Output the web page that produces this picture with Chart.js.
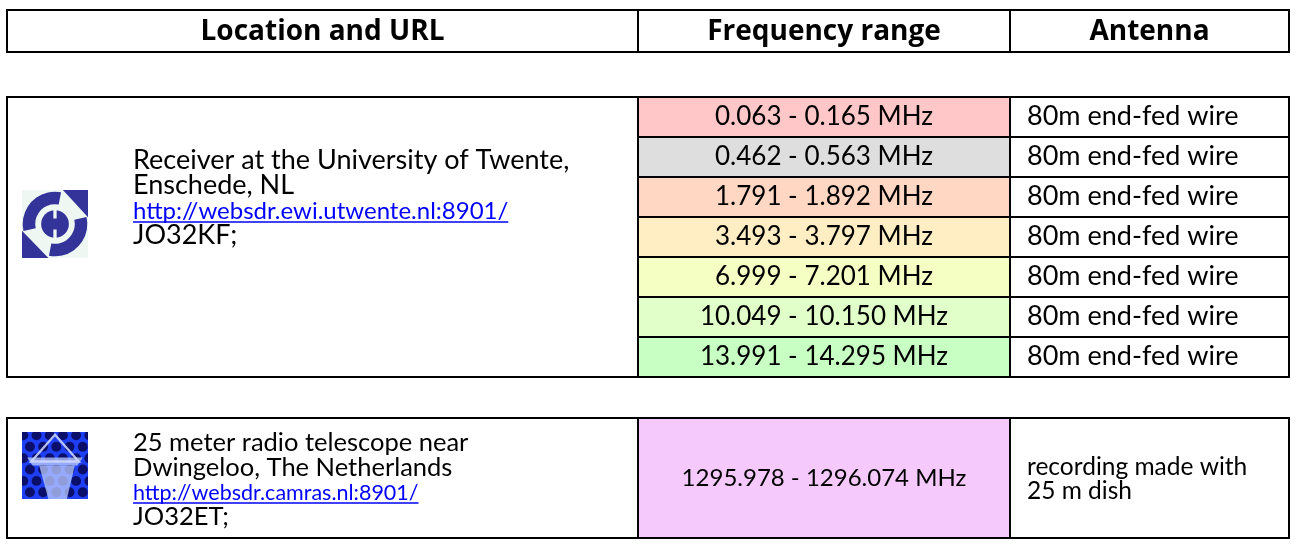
<!DOCTYPE html>
<html>
<head>
<meta charset="utf-8">
<script src="https://cdn.jsdelivr.net/npm/chart.js@4.4.1/dist/chart.umd.min.js"></script>
<style>
  html, body { margin: 0; padding: 0; background: #fff; }
  #wrap { width: 1295px; height: 556px; position: relative; }
</style>
</head>
<body>
<div id="wrap"><canvas id="sdrTable"></canvas></div>
<script>
// --- data ---
const headerLabels = ['Location and URL', 'Frequency range', 'Antenna'];

const twenteInfo = [
  'Receiver at the University of Twente,',
  'Enschede, NL',
  'http://websdr.ewi.utwente.nl:8901/',
  'JO32KF;',
];
const twenteLow = [0.063, 0.462, 1.791, 3.493, 6.999, 10.049, 13.991];
const twenteHigh = [0.165, 0.563, 1.892, 3.797, 7.201, 10.150, 14.295];
const twenteAntenna = [
  '80m end-fed wire',
  '80m end-fed wire',
  '80m end-fed wire',
  '80m end-fed wire',
  '80m end-fed wire',
  '80m end-fed wire',
  '80m end-fed wire',
];

const dwingelooInfo = [
  '25 meter radio telescope near',
  'Dwingeloo, The Netherlands',
  'http://websdr.camras.nl:8901/',
  'JO32ET;',
];
const dwingelooLow = [1295.978];
const dwingelooHigh = [1296.074];
const dwingelooAntenna = ['recording made with', '25 m dish'];

// --- styles / layout (page units, 1 unit = 1 px) ---
const twenteColors = ['#ffc7c7', '#dedede', '#ffd7c3', '#ffedc3', '#f6ffc3', '#e1ffc9', '#c8ffc2'];
const dwingelooColor = '#f5c9fc';
const cols = [7, 638, 1010, 1289];
const headerBox = [10, 52];
const headerBase = 40;
const twenteTop = 97;
const rowH = 40;
const dwBox = [418, 538];
const fam = 'Lato, "Open Sans", sans-serif';
const headFont = 'bold 28px "Open Sans", Lato, sans-serif';
const linkColor = '#0000ff';

const freqLabel = (lo, hi) => lo.toFixed(3) + ' - ' + hi.toFixed(3) + ' MHz';

const twenteCells = twenteLow.map((lo, i) => ({
  y: twenteTop + rowH * i + rowH / 2,
  x: [cols[1], cols[2]],
}));
const dwCells = dwingelooLow.map(() => ({
  y: (dwBox[0] + dwBox[1]) / 2,
  x: [cols[1], cols[2]],
}));

function drawTwenteLogo(ctx, x, y, w, h) {
  const P = (u, v) => [x + u * w, y + v * h];
  ctx.save();
  ctx.fillStyle = '#eff7f3';
  ctx.fillRect(x, y, w, h);
  ctx.fillStyle = '#33339a';
  const [cx, cy] = P(0.5, 0.5);
  const R = w * 0.49, r = w * 0.3;
  const sector = (a0, a1) => {
    ctx.beginPath();
    ctx.arc(cx, cy, R, a0, a1);
    ctx.arc(cx, cy, r, a1, a0, true);
    ctx.closePath();
    ctx.fill();
  };
  sector(0.93 * Math.PI, 1.56 * Math.PI);
  sector(-0.07 * Math.PI, 0.56 * Math.PI);
  const tri = (pts) => {
    ctx.beginPath();
    pts.forEach((p, i) => (i ? ctx.lineTo(...P(...p)) : ctx.moveTo(...P(...p))));
    ctx.closePath();
    ctx.fill();
  };
  tri([[0.62, 0.0], [1.0, 0.0], [1.0, 0.4]]);
  tri([[0.0, 0.6], [0.0, 1.0], [0.4, 1.0]]);
  ctx.beginPath();
  ctx.arc(cx, cy, w * 0.21, 0, Math.PI * 2);
  ctx.fill();
  ctx.strokeStyle = '#eff7f3';
  ctx.lineWidth = w * 0.05;
  ctx.beginPath();
  ctx.moveTo(...P(0.5, 0.27));
  ctx.lineTo(...P(0.5, 0.42));
  ctx.moveTo(...P(0.5, 0.58));
  ctx.lineTo(...P(0.5, 0.73));
  ctx.stroke();
  ctx.restore();
}

function drawDwingelooLogo(ctx, x, y, w, h) {
  const P = (u, v) => [x + u * w, y + v * h];
  ctx.save();
  ctx.beginPath();
  ctx.rect(x, y, w, h);
  ctx.clip();
  ctx.fillStyle = '#1f3ff5';
  ctx.fillRect(x, y, w, h);
  ctx.fillStyle = '#0b0f6a';
  for (let row = 0; row < 7; row++) {
    for (let c = 0; c < 7; c++) {
      const u = c * 0.2 + (row % 2 ? 0.1 : 0) + 0.02;
      const v = row * 0.17 + 0.05;
      ctx.beginPath();
      ctx.arc(...P(u, v), w * 0.075, 0, Math.PI * 2);
      ctx.fill();
    }
  }
  ctx.fillStyle = 'rgba(190,205,255,0.75)';
  const poly = (pts) => {
    ctx.beginPath();
    pts.forEach((p, i) => (i ? ctx.lineTo(...P(...p)) : ctx.moveTo(...P(...p))));
    ctx.closePath();
  };
  poly([[0.08, 0.38], [0.92, 0.38], [0.84, 0.5], [0.16, 0.5]]);
  ctx.fill();
  poly([[0.26, 0.5], [0.8, 0.5], [0.68, 1.0], [0.4, 1.0]]);
  ctx.fill();
  ctx.strokeStyle = 'rgba(210,220,255,0.85)';
  ctx.lineWidth = w * 0.035;
  poly([[0.5, 0.04], [0.86, 0.44], [0.14, 0.44]]);
  ctx.stroke();
  ctx.restore();
}

const tablePlugin = {
  id: 'tablePlugin',
  afterDatasetsDraw(chart) {
    const ctx = chart.ctx;
    const X = (v) => chart.scales.x.getPixelForValue(v);
    const Y = (v) => chart.scales.y.getPixelForValue(v);
    ctx.save();

    const box = (top, bottom) => {
      ctx.strokeStyle = '#000';
      ctx.lineWidth = 2;
      ctx.strokeRect(X(cols[0]), Y(top), X(cols[3]) - X(cols[0]), Y(bottom) - Y(top));
      ctx.beginPath();
      ctx.moveTo(X(cols[1]), Y(top));
      ctx.lineTo(X(cols[1]), Y(bottom));
      ctx.moveTo(X(cols[2]), Y(top));
      ctx.lineTo(X(cols[2]), Y(bottom));
      ctx.stroke();
    };

    // header
    box(headerBox[0], headerBox[1]);
    ctx.fillStyle = '#000';
    ctx.font = headFont;
    ctx.textAlign = 'center';
    ctx.textBaseline = 'alphabetic';
    headerLabels.forEach((t, i) => {
      ctx.fillText(t, (X(cols[i]) + X(cols[i + 1])) / 2, Y(headerBase));
    });

    // Twente block
    const twBottom = twenteTop + rowH * twenteLow.length;
    box(twenteTop, twBottom);
    ctx.beginPath();
    for (let i = 1; i < twenteLow.length; i++) {
      ctx.moveTo(X(cols[1]), Y(twenteTop + rowH * i));
      ctx.lineTo(X(cols[3]), Y(twenteTop + rowH * i));
    }
    ctx.stroke();

    twenteLow.forEach((lo, i) => {
      const base = Y(twenteTop + rowH * i + 28);
      ctx.fillStyle = '#000';
      ctx.textAlign = 'center';
      ctx.font = '26px ' + fam;
      ctx.fillText(freqLabel(lo, twenteHigh[i]), (X(cols[1]) + X(cols[2])) / 2, base);
      ctx.textAlign = 'left';
      ctx.font = '27px ' + fam;
      ctx.fillText(twenteAntenna[i], X(cols[2]) + 17, base);
    });

    const infoBlock = (lines, firstBase, step, size, linkSize) => {
      ctx.textAlign = 'left';
      lines.forEach((t, i) => {
        const bx = X(133);
        const by = Y(firstBase + step * i);
        const isLink = t.startsWith('http');
        ctx.font = (isLink ? linkSize : size) + 'px ' + fam;
        ctx.fillStyle = isLink ? linkColor : '#000';
        ctx.fillText(t, bx, by);
        if (isLink) {
          const w = ctx.measureText(t).width;
          ctx.strokeStyle = linkColor;
          ctx.lineWidth = 1.5;
          ctx.beginPath();
          ctx.moveTo(bx, by + 3);
          ctx.lineTo(bx + w, by + 3);
          ctx.stroke();
        }
      });
    };
    infoBlock(twenteInfo, 169, 25, 27, 24);
    drawTwenteLogo(ctx, X(22), Y(190), X(88) - X(22), Y(258) - Y(190));

    // Dwingeloo block
    box(dwBox[0], dwBox[1]);
    ctx.fillStyle = '#000';
    ctx.textAlign = 'center';
    ctx.font = '24px ' + fam;
    dwingelooLow.forEach((lo, i) => {
      ctx.fillText(freqLabel(lo, dwingelooHigh[i]), (X(cols[1]) + X(cols[2])) / 2, Y(486));
    });
    ctx.textAlign = 'left';
    ctx.font = '24.5px ' + fam;
    dwingelooAntenna.forEach((t, i) => {
      ctx.fillText(t, X(cols[2]) + 17, Y(475 + 24 * i));
    });
    infoBlock(dwingelooInfo, 451, 24.5, 25.5, 21.5);
    drawDwingelooLogo(ctx, X(22), Y(432), X(88) - X(22), Y(499) - Y(432));

    ctx.restore();
  },
};

new Chart(document.getElementById('sdrTable'), {
  type: 'bar',
  data: {
    datasets: [
      {
        label: 'Twente',
        data: twenteCells,
        backgroundColor: twenteColors,
        borderWidth: 0,
        barThickness: rowH,
        grouped: false,
      },
      {
        label: 'Dwingeloo',
        data: dwCells,
        backgroundColor: dwingelooColor,
        borderWidth: 0,
        barThickness: dwBox[1] - dwBox[0],
        grouped: false,
      },
    ],
  },
  options: {
    indexAxis: 'y',
    responsive: true,
    maintainAspectRatio: false,
    animation: false,
    events: [],
    layout: { padding: 0 },
    scales: {
      x: { type: 'linear', min: 0, max: 1295, display: false, offset: false },
      y: { type: 'linear', min: 0, max: 556, reverse: true, display: false, offset: false },
    },
    plugins: {
      legend: { display: false },
      tooltip: { enabled: false },
    },
  },
  plugins: [tablePlugin],
});
</script>
</body>
</html>
